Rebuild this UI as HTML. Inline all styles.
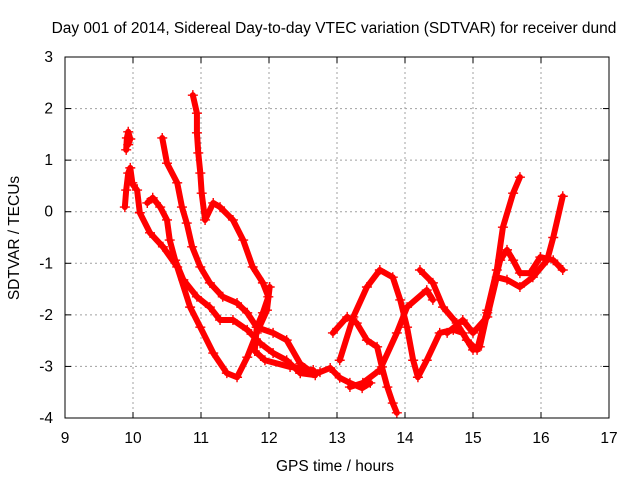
<!DOCTYPE html>
<html><head><meta charset="utf-8"><style>
body{margin:0;background:#fff}
svg text{font-family:"Liberation Sans",sans-serif;font-size:15.5px;fill:#000}
</style></head><body>
<svg id="c" width="640" height="480">
<text x="334" y="33" text-anchor="middle">Day 001 of 2014, Sidereal Day-to-day VTEC variation (SDTVAR) for receiver dund</text>
<text x="335" y="471" text-anchor="middle">GPS time / hours</text>
<text transform="translate(19,238) rotate(-90)" text-anchor="middle">SDTVAR / TECUs</text>
<g id="grid"></g>
<g id="axes"></g>
<g id="marks"></g>
<rect x="65" y="57" width="544" height="361" fill="none" stroke="#000" stroke-width="1"/>
</svg>
<script>
const xTicks=[9,10,11,12,13,14,15,16,17];
const yTicks=[-4,-3,-2,-1,0,1,2,3];
const trackA=[[9.90,1.20],[9.91,1.43],[9.93,1.55],[9.96,1.41],[9.93,1.30]];
const trackB=[[9.88,0.09],[9.90,0.42],[9.93,0.75],[9.96,0.85],[9.99,0.56],[10.00,0.52],[10.06,0.42],[10.10,-0.02],[10.25,-0.41],[10.44,-0.68],[10.65,-1.07],[10.84,-1.85],[10.99,-2.24],[11.18,-2.74],[11.38,-3.13],[11.53,-3.21],[11.68,-2.82],[11.82,-2.35],[11.97,-1.91],[12.01,-1.46]];
const trackC=[[10.21,0.17],[10.29,0.27],[10.40,0.09],[10.50,-0.16],[10.54,-0.55],[10.62,-0.94],[10.74,-1.32],[10.94,-1.65],[11.13,-1.85],[11.28,-2.10],[11.47,-2.10],[11.68,-2.29],[11.87,-2.55],[12.06,-2.74],[12.26,-2.88],[12.46,-3.13],[12.68,-3.17]];
const trackD=[[10.43,1.43],[10.50,0.94],[10.65,0.56],[10.72,0.09],[10.79,-0.22],[10.87,-0.68],[10.99,-1.07],[11.13,-1.38],[11.32,-1.65],[11.53,-1.77],[11.68,-1.96],[11.82,-2.24],[12.06,-2.35],[12.26,-2.49],[12.46,-2.95],[12.65,-3.13]];
const trackE=[[10.88,2.26],[10.94,1.91],[10.94,1.53],[10.96,1.14],[10.99,0.75],[11.01,0.36],[11.06,-0.16],[11.18,0.17],[11.28,0.09],[11.47,-0.16],[11.62,-0.55],[11.76,-1.07],[11.91,-1.38],[11.99,-1.65],[11.91,-1.96],[11.82,-2.24],[11.79,-2.70],[11.94,-2.88],[12.31,-3.01],[12.65,-3.07]];
const trackG=[[12.46,-3.13],[12.75,-3.11],[12.90,-3.03],[13.04,-3.22],[13.19,-3.32],[13.37,-3.42],[13.49,-3.32]];
const trackH=[[12.94,-2.35],[13.15,-2.04],[13.29,-2.16],[13.44,-2.49],[13.59,-2.62],[13.66,-3.01],[13.74,-3.40],[13.82,-3.71],[13.88,-3.90]];
const trackI=[[13.19,-3.40],[13.38,-3.32],[13.63,-3.07],[13.88,-2.35],[14.03,-1.85],[14.32,-1.52],[14.41,-1.71]];
const trackJ=[[13.04,-2.88],[13.24,-2.04],[13.44,-1.46],[13.63,-1.13],[13.82,-1.27],[13.93,-1.71],[14.03,-2.24],[14.12,-2.88],[14.19,-3.21],[14.32,-2.88],[14.51,-2.35],[14.71,-2.29],[14.85,-2.35],[15.00,-2.68],[15.10,-2.62],[15.21,-1.96],[15.40,-0.94],[15.50,-0.74],[15.59,-0.94],[15.69,-1.19],[15.84,-1.19],[15.99,-0.88],[16.18,-0.94],[16.32,-1.13]];
const trackK=[[14.22,-1.13],[14.41,-1.38],[14.56,-1.85],[14.76,-2.16],[14.91,-2.49],[15.06,-2.68],[15.21,-1.91],[15.35,-1.13],[15.44,-0.30],[15.59,0.36],[15.69,0.67]];
const trackM=[[14.62,-2.35],[14.85,-2.10],[15.00,-2.35],[15.21,-2.04],[15.35,-1.27],[15.50,-1.32],[15.69,-1.46],[15.88,-1.27],[16.09,-0.94],[16.18,-0.50],[16.32,0.30]];
const tracks=[trackA,trackB,trackC,trackD,trackE,trackG,trackH,trackI,trackJ,trackK,trackM];
const NS='http://www.w3.org/2000/svg';
const X0=65,X1=609,Y0=418,Y1=57;
function sx(h){return X0+(h-9)/(17-9)*(X1-X0);}
function sy(v){return Y0-(v+4)/(3+4)*(Y0-Y1);}
function mk(t,a,p){const e=document.createElementNS(NS,t);for(const k in a)e.setAttribute(k,a[k]);p.appendChild(e);return e;}
const grid=document.getElementById('grid'),axes=document.getElementById('axes'),marks=document.getElementById('marks');
xTicks.forEach(t=>{const x=sx(t);
 if(t>9&&t<17){const l=mk('line',{x1:x,x2:x,y1:Y1,y2:Y0,stroke:'#a0a0a0','stroke-dasharray':'2,3'},grid);}
 mk('line',{x1:x,x2:x,y1:Y0,y2:Y0-6,stroke:'#000'},axes);mk('line',{x1:x,x2:x,y1:Y1,y2:Y1+6,stroke:'#000'},axes);
 const tx=mk('text',{x:x,y:443,'text-anchor':'middle'},axes);tx.textContent=t;
 
 });
yTicks.forEach(t=>{const y=sy(t);
 if(t>-4&&t<3){const l=mk('line',{x1:X0,x2:X1,y1:y,y2:y,stroke:'#a0a0a0','stroke-dasharray':'2,3'},grid);}
 mk('line',{x1:X0,x2:X0+6,y1:y,y2:y,stroke:'#000'},axes);mk('line',{x1:X1,x2:X1-6,y1:y,y2:y,stroke:'#000'},axes);
 const tx=mk('text',{x:53,y:y+5,'text-anchor':'end'},axes);tx.textContent=t;
 
 });
tracks.forEach((tr,i)=>{
 const pl=mk('polyline',{points:tr.map(p=>sx(p[0])+','+sy(p[1])).join(' '),fill:'none',stroke:'#f00','stroke-width':6,'stroke-linejoin':'round','stroke-linecap':'round'},marks);
 
 
 tr.forEach(p=>{const x=sx(p[0]),y=sy(p[1]);
  const g=mk('path',{d:`M${x-5},${y}H${x+5}M${x},${y-5}V${y+5}`,stroke:'#f00','stroke-width':1.4},marks);
  
  });
});
</script>
</body></html>
